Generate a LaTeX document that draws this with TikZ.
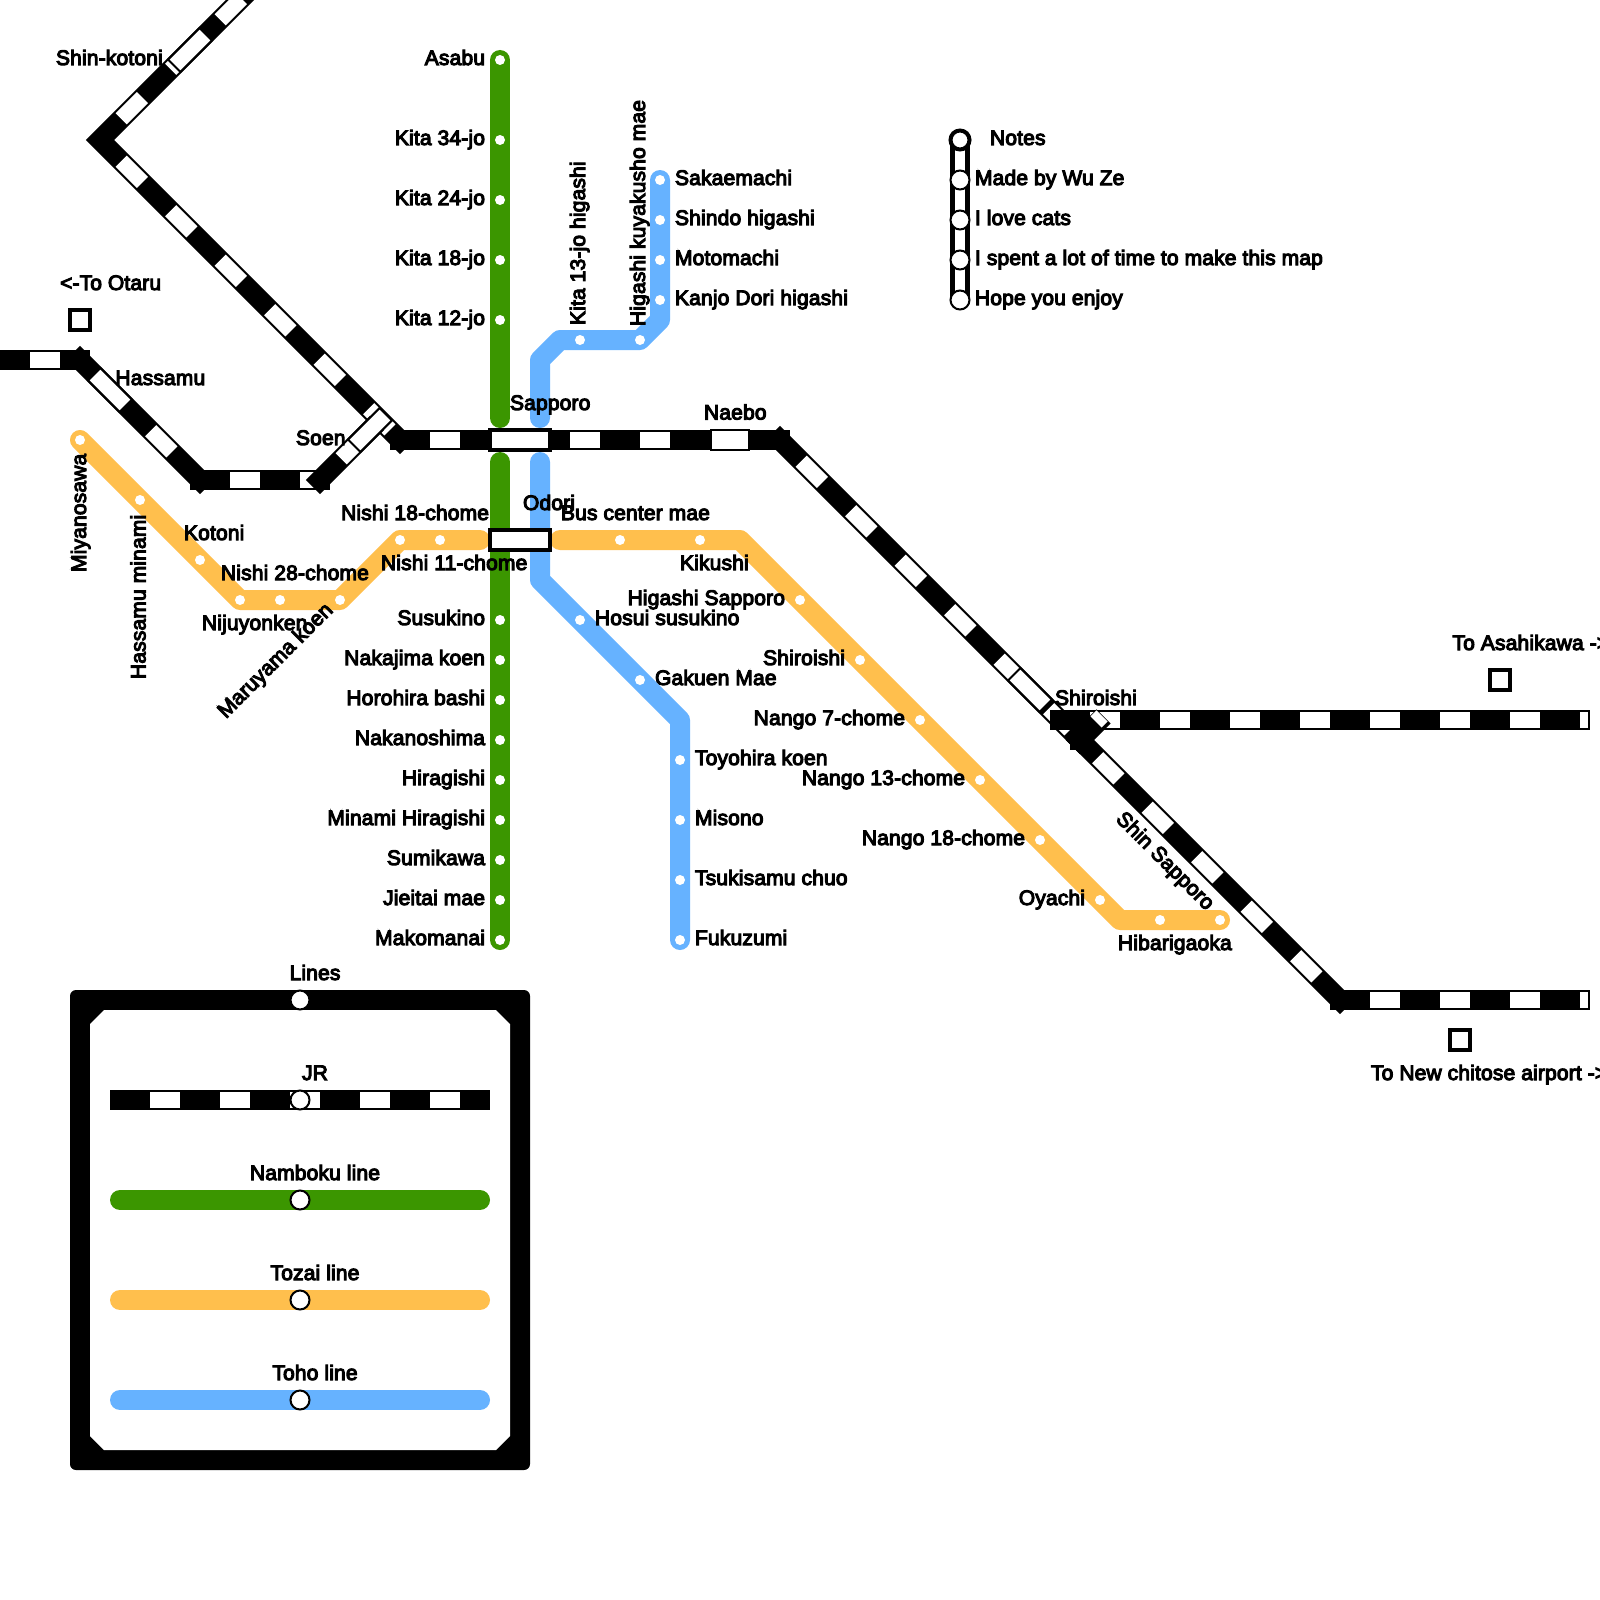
\documentclass[tikz,border=0pt]{standalone}
\usepackage{fontspec}
\newfontfamily\labfont[FakeBold=5,LetterSpace=0.8]{Liberation Sans}
\definecolor{ngreen}{HTML}{3B9600}
\definecolor{tblue}{HTML}{66B2FF}
\definecolor{zorange}{HTML}{FFBF4D}
\tikzset{
  lab/.style={inner sep=0pt,outer sep=0pt,font=\labfont\fontsize{21}{25}\selectfont,text=black},
  lw/.style={lab,anchor=base west},
  le/.style={lab,anchor=base east},
  lc/.style={lab,anchor=base},
  jrb/.style={draw=black,line width=20pt,line cap=rect,line join=miter,miter limit=10},
  jrw/.style={draw=white,line width=15.6pt,line cap=butt,dash pattern=on 30pt off 40pt,dash phase=40pt},
  metro/.style={line width=20pt,line cap=round,line join=round},
  stop/.style={circle,fill=white,inner sep=0pt,minimum size=10pt},
  stnh/.style={rectangle,draw=black,fill=white,line width=2pt,inner sep=0pt,minimum width=38pt,minimum height=19.5pt},
  stnd/.style={rectangle,draw=black,fill=white,line width=2pt,inner sep=0pt,minimum width=44.5pt,minimum height=17.5pt},
  hub/.style={rectangle,draw=black,fill=white,line width=4pt,inner sep=0pt,minimum width=60pt,minimum height=20pt},
  term/.style={rectangle,draw=black,fill=white,line width=4pt,inner sep=0pt,minimum width=20pt,minimum height=20pt},
  ring/.style={circle,draw=black,fill=white,line width=2pt,inner sep=0pt,minimum size=19pt},
  ringb/.style={circle,draw=black,fill=white,line width=4pt,inner sep=0pt,minimum size=19pt}
}
\begin{document}
\begin{tikzpicture}[x=1pt,y=-1pt]
\clip (0,0) rectangle (1600,1600);
\fill[white] (0,0) rectangle (1600,1600);
% route points
\coordinate (tlend) at (250,-10);
\coordinate (tlv) at (100,140);
\coordinate (sj) at (400,440);
\coordinate (nb) at (780,440);
\coordinate (swj) at (1080,740);
\coordinate (air) at (1340,1000);
\coordinate (airend) at (1580,1000);
\coordinate (airw) at (1588,1000);
\coordinate (ha0) at (0,360);
\coordinate (ha1) at (80,360);
\coordinate (ha2) at (200,480);
\coordinate (ha3) at (320,480);
\coordinate (ha4) at (370,430);
\coordinate (as0) at (1060,720);
\coordinate (as1) at (1580,720);
\coordinate (as1w) at (1588,720);
% Namboku
\draw[metro,ngreen] (500,60) -- (500,418);
\draw[metro,ngreen] (500,462) -- (500,940);
% Toho
\draw[metro,tblue] (660,180) -- (660,320) -- (640,340) -- (560,340) -- (540,360) -- (540,418);
\draw[metro,tblue] (540,462) -- (540,580) -- (680,720) -- (680,940);
% Tozai
\draw[metro,zorange] (80,440) -- (240,600) -- (340,600) -- (400,540) -- (480,540);
\draw[metro,zorange] (560,540) -- (740,540) -- (1120,920) -- (1220,920);
% stops
\foreach \y [count=\i] in {60,140,200,260,320,620,660,700,740,780,820,860,900,940}
  \node[stop] (g\i) at (500,\y) {};
\foreach \p [count=\i] in {(660,180),(660,220),(660,260),(660,300),(640,340),(580,340),(580,620),(640,680),(680,760),(680,820),(680,880),(680,940)}
  \node[stop] (b\i) at \p {};
\foreach \p [count=\i] in {(80,440),(140,500),(200,560),(240,600),(280,600),(340,600),(400,540),(440,540),(620,540),(700,540),(800,600),(860,660),(920,720),(980,780),(1040,840),(1100,900),(1160,920),(1220,920)}
  \node[stop] (o\i) at \p {};
% JR
\draw[jrb] (tlend) -- (tlv) -- (sj);
\draw[jrw] (tlv) -- (tlend);
\draw[jrw] (tlv) -- (sj);
\draw[jrb] (ha0) -- (ha1);
\draw[jrb] (ha1) -- (ha2);
\draw[jrb] (ha2) -- (ha3);
\draw[jrw] (ha0) -- (ha1);
\draw[jrw] (ha1) -- (ha2);
\draw[jrw] (ha2) -- (ha3);
\draw[jrb] (ha3) -- (ha4);
\draw[jrw] (ha3) -- (ha4);
\draw[jrb] (sj) -- (nb);
\draw[jrw] (sj) -- (nb);
\draw[jrb] (nb) -- (swj);
\draw[jrw] (nb) -- (swj);
\draw[jrb] (swj) -- (air);
\draw[jrw,dash phase=45pt] (swj) -- (air);
\draw[jrb] (as0) -- (as1);
\draw[jrw] (as0) -- (as1w);
\draw[jrb] (air) -- (airend);
\draw[jrw] (air) -- (airw);
% Shiroishi junction
\fill[black] (1070,730) rectangle (1090,750);
\coordinate (stub) at (1096.5,723.5);
\draw[jrb] (swj) -- (stub);
\draw[draw=white,line width=15.6pt] (1096,722) -- (1102,716);
% stations
\node[stnd,rotate=45] (skst) at (190,50) {};
\node[stnd,rotate=-45] (hast) at (110,390) {};
\node[stnd,rotate=45] (sost) at (370,430) {};
\node[stnd,rotate=-45] (shst) at (1030,690) {};
\node[stnh] (nbst) at (730,440) {};
\node[hub] (spst) at (520,440) {};
\node[hub] (odst) at (520,540) {};
\node[term] (t1) at (80,320) {};
\node[term] (t2) at (1500,680) {};
\node[term] (t3) at (1460,1040) {};
% notes
\coordinate (na) at (960,140);
\coordinate (nz) at (960,300);
\draw[line width=20pt,black] (na) -- (nz);
\draw[line width=10pt,white] (na) -- (nz);
\node[ringb] (n0) at (na) {};
\node[ring] (n1) at (960,180) {};
\node[ring] (n2) at (960,220) {};
\node[ring] (n3) at (960,260) {};
\node[ring] (n4) at (nz) {};
% legend
\fill[black,rounded corners=6pt] (70,990) rectangle (530,1470);
\fill[white] (104,1010) -- (496,1010) -- (510,1024) -- (510,1436) -- (496,1450) -- (104,1450) -- (90,1436) -- (90,1024) -- cycle;
\coordinate (l1a) at (120,1100); \coordinate (l1b) at (480,1100);
\coordinate (l2a) at (120,1200); \coordinate (l2b) at (480,1200);
\coordinate (l3a) at (120,1300); \coordinate (l3b) at (480,1300);
\coordinate (l4a) at (120,1400); \coordinate (l4b) at (480,1400);
\draw[jrb] (l1a) -- (l1b);
\draw[jrw] (l1a) -- (l1b);
\draw[metro,ngreen] (l2a) -- (l2b);
\draw[metro,zorange] (l3a) -- (l3b);
\draw[metro,tblue] (l4a) -- (l4b);
\node[ring] (c0) at (300,1000) {};
\node[ring] (c1) at (300,1100) {};
\node[ring] (c2) at (300,1200) {};
\node[ring] (c3) at (300,1300) {};
\node[ring] (c4) at (300,1400) {};
% labels: Namboku
\node[le] (tg1) at (485,65) {Asabu};
\node[le] (tg2) at (485,145) {Kita 34-jo};
\node[le] (tg3) at (485,205) {Kita 24-jo};
\node[le] (tg4) at (485,265) {Kita 18-jo};
\node[le] (tg5) at (485,325) {Kita 12-jo};
\node[le] (tg6) at (485,625) {Susukino};
\node[le] (tg7) at (485,665) {Nakajima koen};
\node[le] (tg8) at (485,705) {Horohira bashi};
\node[le] (tg9) at (485,745) {Nakanoshima};
\node[le] (tg10) at (485,785) {Hiragishi};
\node[le] (tg11) at (485,825) {Minami Hiragishi};
\node[le] (tg12) at (485,865) {Sumikawa};
\node[le] (tg13) at (485,905) {Jieitai mae};
\node[le] (tg14) at (485,945) {Makomanai};
% labels: Toho
\node[lw] (tb1) at (675,185) {Sakaemachi};
\node[lw] (tb2) at (675,225) {Shindo higashi};
\node[lw] (tb3) at (675,265) {Motomachi};
\node[lw] (tb4) at (675,305) {Kanjo Dori higashi};
\node[lw,rotate=90] (tb5) at (585,325) {Kita 13-jo higashi};
\node[lw,rotate=90] (tb6) at (645,326) {Higashi kuyakusho mae};
\node[lw] (tb7) at (595,625) {Hosui susukino};
\node[lw] (tb8) at (655,685) {Gakuen Mae};
\node[lw] (tb9) at (695,765) {Toyohira koen};
\node[lw] (tb10) at (695,825) {Misono};
\node[lw] (tb11) at (695,885) {Tsukisamu chuo};
\node[lw] (tb12) at (695,945) {Fukuzumi};
% labels: centre and Tozai
\node[lw] (tc1) at (510,410) {Sapporo};
\node[lw] (tc2) at (704,419.5) {Naebo};
\node[lw] (tc3) at (523,510) {Odori};
\node[lw] (to1) at (561,520) {Bus center mae};
\node[lw] (to2) at (680,570) {Kikushi};
\node[le] (to3) at (489,520) {Nishi 18-chome};
\node[lw] (to4) at (381,570) {Nishi 11-chome};
\node[lw] (to5) at (184,540) {Kotoni};
\node[lw] (to6) at (221,580) {Nishi 28-chome};
\node[lw] (to7) at (202,630) {Nijuyonken};
\node[lw,rotate=45] (to8) at (226,719) {Maruyama koen};
\node[lw,rotate=90] (to9) at (145.5,679) {Hassamu minami};
\node[lw,rotate=90] (to10) at (86,572) {Miyanosawa};
\node[le] (to11) at (785,605) {Higashi Sapporo};
\node[le] (to12) at (845,665) {Shiroishi};
\node[le] (to13) at (905,725) {Nango 7-chome};
\node[le] (to14) at (965,785) {Nango 13-chome};
\node[le] (to15) at (1025,845) {Nango 18-chome};
\node[le] (to16) at (1085,905) {Oyachi};
\node[lw] (to17) at (1118,950) {Hibarigaoka};
% labels: JR
\node[lw] (tj1) at (115.5,385) {Hassamu};
\node[lw] (tj2) at (296,445) {Soen};
\node[lw] (tj3) at (60,290) {<-To Otaru};
\node[lw] (tj4) at (56,65) {Shin-kotoni};
\node[lw] (tj5) at (1055,705) {Shiroishi};
\node[lw] (tj6) at (1452.5,650) {To Asahikawa ->};
\node[lw] (tj7) at (1371,1080) {To New chitose airport ->};
\node[lw,rotate=-45] (tj8) at (1115,820) {Shin Sapporo};
% labels: notes
\node[lw] (tn0) at (990,145) {Notes};
\node[lw] (tn1) at (975,185) {Made by Wu Ze};
\node[lw] (tn2) at (975,225) {I love cats};
\node[lw] (tn3) at (975,265) {I spent a lot of time to make this map};
\node[lw] (tn4) at (975,305) {Hope you enjoy};
% labels: legend
\node[lc] (tl0) at (315,980) {Lines};
\node[lc] (tl1) at (315,1080) {JR};
\node[lc] (tl2) at (315,1180) {Namboku line};
\node[lc] (tl3) at (315,1280) {Tozai line};
\node[lc] (tl4) at (315,1380) {Toho line};
\end{tikzpicture}
\end{document}
